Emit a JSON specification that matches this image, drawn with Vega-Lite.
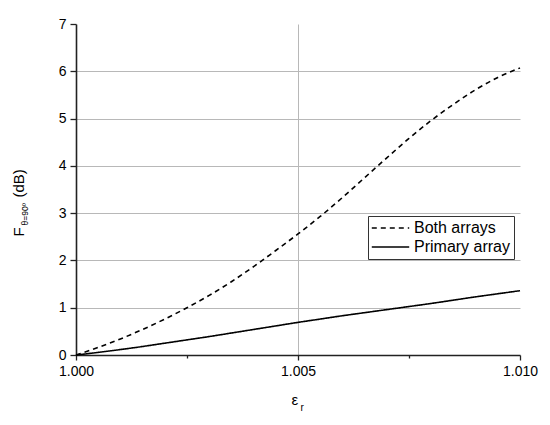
{
  "$schema": "https://vega.github.io/schema/vega-lite/v6.json",
  "width": 444,
  "height": 331,
  "autosize": {"type": "none"},
  "padding": {"left": 76, "top": 24, "right": 30, "bottom": 70},
  "background": "white",
  "config": {
    "view": {"stroke": null},
    "font": "Liberation Sans",
    "axis": {
      "labelFont": "Liberation Sans",
      "titleFont": "Liberation Sans",
      "labelColor": "black",
      "titleColor": "black",
      "domainColor": "#222222",
      "domainWidth": 1.6,
      "tickColor": "#222222",
      "tickWidth": 1.3,
      "gridColor": "#b8b8b8",
      "gridWidth": 1,
      "labelFontSize": 14,
      "titleFontWeight": "normal"
    },
    "legend": {
      "labelFont": "Liberation Sans",
      "labelFontSize": 16,
      "labelColor": "black"
    }
  },
  "data": {
    "values": [
      {"er": 1.0000, "F": 0, "series": "Both arrays"},
      {"er": 1.0005, "F": 0.16, "series": "Both arrays"},
      {"er": 1.0010, "F": 0.34, "series": "Both arrays"},
      {"er": 1.0015, "F": 0.54, "series": "Both arrays"},
      {"er": 1.0020, "F": 0.76, "series": "Both arrays"},
      {"er": 1.0025, "F": 1.0, "series": "Both arrays"},
      {"er": 1.0030, "F": 1.26, "series": "Both arrays"},
      {"er": 1.0035, "F": 1.55, "series": "Both arrays"},
      {"er": 1.0040, "F": 1.87, "series": "Both arrays"},
      {"er": 1.0045, "F": 2.21, "series": "Both arrays"},
      {"er": 1.0050, "F": 2.56, "series": "Both arrays"},
      {"er": 1.0055, "F": 2.93, "series": "Both arrays"},
      {"er": 1.0060, "F": 3.33, "series": "Both arrays"},
      {"er": 1.0065, "F": 3.75, "series": "Both arrays"},
      {"er": 1.0070, "F": 4.17, "series": "Both arrays"},
      {"er": 1.0075, "F": 4.58, "series": "Both arrays"},
      {"er": 1.0080, "F": 4.96, "series": "Both arrays"},
      {"er": 1.0085, "F": 5.30, "series": "Both arrays"},
      {"er": 1.0090, "F": 5.61, "series": "Both arrays"},
      {"er": 1.0095, "F": 5.87, "series": "Both arrays"},
      {"er": 1.0100, "F": 6.07, "series": "Both arrays"},
      {"er": 1.0000, "F": 0, "series": "Primary array"},
      {"er": 1.0005, "F": 0.055, "series": "Primary array"},
      {"er": 1.0010, "F": 0.115, "series": "Primary array"},
      {"er": 1.0015, "F": 0.18, "series": "Primary array"},
      {"er": 1.0020, "F": 0.25, "series": "Primary array"},
      {"er": 1.0025, "F": 0.32, "series": "Primary array"},
      {"er": 1.0030, "F": 0.39, "series": "Primary array"},
      {"er": 1.0035, "F": 0.465, "series": "Primary array"},
      {"er": 1.0040, "F": 0.54, "series": "Primary array"},
      {"er": 1.0045, "F": 0.615, "series": "Primary array"},
      {"er": 1.0050, "F": 0.69, "series": "Primary array"},
      {"er": 1.0055, "F": 0.76, "series": "Primary array"},
      {"er": 1.0060, "F": 0.83, "series": "Primary array"},
      {"er": 1.0065, "F": 0.895, "series": "Primary array"},
      {"er": 1.0070, "F": 0.96, "series": "Primary array"},
      {"er": 1.0075, "F": 1.025, "series": "Primary array"},
      {"er": 1.0080, "F": 1.09, "series": "Primary array"},
      {"er": 1.0085, "F": 1.16, "series": "Primary array"},
      {"er": 1.0090, "F": 1.23, "series": "Primary array"},
      {"er": 1.0095, "F": 1.295, "series": "Primary array"},
      {"er": 1.0100, "F": 1.36, "series": "Primary array"}
    ]
  },
  "resolve": {"axis": {"x": "independent", "y": "independent"}},
  "layer": [
    {
      "mark": {"type": "line", "color": "black", "strokeWidth": 1.6, "interpolate": "monotone"},
      "encoding": {
        "x": {
          "field": "er", "type": "quantitative",
          "scale": {"domain": [1.0, 1.01], "nice": false, "zero": false},
          "axis": {
            "orient": "bottom",
            "values": [1.0, 1.0025, 1.005, 1.0075, 1.01],
            "format": ".3f",
            "labelExpr": "abs(datum.value*200 - round(datum.value*200)) < 1e-6 ? datum.label : ''",
            "tickSize": {"condition": {"test": "abs(datum.value*200 - round(datum.value*200)) < 1e-6", "value": 5}, "value": 3},
            "grid": true,
            "gridOpacity": {"condition": {"test": "abs(datum.value - 1.005) < 1e-9", "value": 1}, "value": 0},
            "labelPadding": 4,
            "labelFlush": false,
            "title": "ε",
            "titleFontSize": 15,
            "titleAlign": "left",
            "titleBaseline": "alphabetic",
            "titleX": 215,
            "titleY": 49
          }
        },
        "y": {
          "field": "F", "type": "quantitative",
          "scale": {"domain": [0, 7], "nice": false},
          "axis": {
            "orient": "left",
            "values": [0, 0.5, 1, 1.5, 2, 2.5, 3, 3.5, 4, 4.5, 5, 5.5, 6, 6.5, 7],
            "format": "d",
            "labelExpr": "datum.value % 1 === 0 ? datum.label : ''",
            "tickSize": {"condition": {"test": "datum.value % 1 === 0", "value": 6}, "value": 3},
            "grid": true,
            "gridOpacity": {"condition": {"test": "datum.value % 1 === 0 && datum.value > 0 && datum.value < 7", "value": 1}, "value": 0},
            "labelPadding": 4,
            "labelFlush": false,
            "title": "F",
            "titleFontSize": 15,
            "titleAngle": -90,
            "titleAlign": "left",
            "titleBaseline": "alphabetic",
            "titleX": -53,
            "titleY": 212
          }
        },
        "strokeDash": {
          "field": "series", "type": "nominal",
          "scale": {"domain": ["Both arrays", "Primary array"], "range": [[5, 4], [1, 0]]},
          "legend": {
            "title": null,
            "orient": "none",
            "legendX": 292,
            "legendY": 192,
            "strokeColor": "#333333",
            "fillColor": "white",
            "padding": 3,
            "symbolType": "stroke",
            "symbolSize": 1400,
            "clipHeight": 18,
            "symbolStrokeColor": "black",
            "symbolStrokeWidth": 1.5,
            "rowPadding": 1,
            "labelOffset": 4
          }
        }
      }
    },
    {
      "mark": {"type": "point", "opacity": 0},
      "encoding": {
        "x": {"field": "er", "type": "quantitative", "axis": null},
        "y": {
          "field": "F", "type": "quantitative",
          "axis": {
            "orient": "left", "domain": false, "ticks": false, "labels": false, "grid": false,
            "title": "θ=90º", "titleFontSize": 8.5, "titleAngle": -90,
            "titleAlign": "left", "titleBaseline": "alphabetic",
            "titleX": -49, "titleY": 201
          }
        }
      }
    },
    {
      "mark": {"type": "point", "opacity": 0},
      "encoding": {
        "x": {"field": "er", "type": "quantitative", "axis": null},
        "y": {
          "field": "F", "type": "quantitative",
          "axis": {
            "orient": "left", "domain": false, "ticks": false, "labels": false, "grid": false,
            "title": "(dB)", "titleFontSize": 15, "titleAngle": -90,
            "titleAlign": "left", "titleBaseline": "alphabetic",
            "titleX": -53, "titleY": 173
          }
        }
      }
    },
    {
      "mark": {"type": "point", "opacity": 0},
      "encoding": {
        "x": {
          "field": "er", "type": "quantitative",
          "axis": {
            "orient": "bottom", "domain": false, "ticks": false, "labels": false, "grid": false,
            "title": "r", "titleFontSize": 10,
            "titleAlign": "left", "titleBaseline": "alphabetic",
            "titleX": 224, "titleY": 55
          }
        },
        "y": {"field": "F", "type": "quantitative", "axis": null}
      }
    }
  ]
}
